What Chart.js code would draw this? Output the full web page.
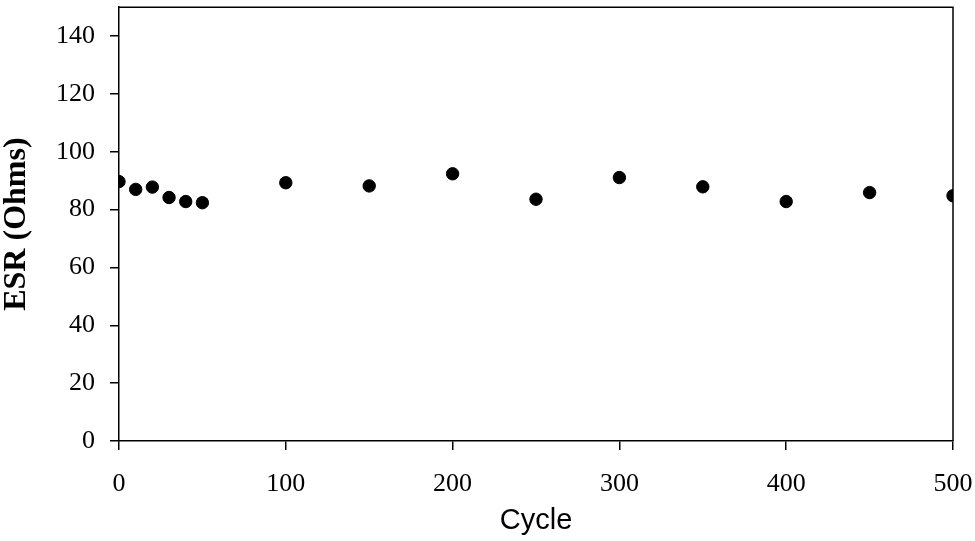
<!DOCTYPE html>
<html lang="en">

<head>
    <meta charset="UTF-8" />
    <title>ESR vs Cycle</title>
    <script src="https://cdn.jsdelivr.net/npm/chart.js"></script>
    <style>
        html, body { margin: 0; padding: 0; background: #fff; }
        #wrap { width: 975px; height: 541px; }
    </style>
</head>

<body>
    <div id="wrap"><canvas id="esrChart"></canvas></div>

    <script>
        // values
        const cycles = [0, 10, 20, 30, 40, 50, 100, 150, 200, 250, 300, 350, 400, 450, 500];
        const esr = [89.7, 87.0, 87.8, 84.2, 82.8, 82.4, 89.3, 88.2, 92.4, 83.6, 91.1, 87.9, 82.8, 85.9, 84.8];
        const xTicks = [0, 100, 200, 300, 400, 500];
        const yTicks = [0, 20, 40, 60, 80, 100, 120, 140];

        // top and right sides of the plot box
        const frame = {
            id: 'frame',
            afterDraw(chart) {
                const { ctx, chartArea: a } = chart;
                ctx.save();
                ctx.strokeStyle = '#000';
                ctx.lineWidth = 1.5;
                ctx.beginPath();
                ctx.moveTo(a.left, a.top);
                ctx.lineTo(a.right, a.top);
                ctx.lineTo(a.right, a.bottom);
                ctx.stroke();
                ctx.restore();
            }
        };

        const serif = "'Liberation Serif', 'Times New Roman', serif";

        new Chart(document.getElementById('esrChart'), {
            type: 'scatter',
            data: {
                datasets: [{
                    label: 'ESR',
                    data: cycles.map((c, i) => ({ x: c, y: esr[i] })),
                    backgroundColor: '#000',
                    borderColor: '#000',
                    pointRadius: 6.2,
                    pointHoverRadius: 6.2
                }]
            },
            options: {
                responsive: true,
                maintainAspectRatio: false,
                animation: false,
                layout: { padding: { top: 3, right: 22, left: 0, bottom: 0 } },
                plugins: {
                    legend: { display: false },
                    tooltip: { enabled: false }
                },
                scales: {
                    x: {
                        type: 'linear',
                        min: 0,
                        max: 500,
                        afterBuildTicks: s => { s.ticks = xTicks.map(v => ({ value: v })); },
                        afterFit: s => {
                            s.height = 100;
                            s.paddingLeft = 0;
                            s.paddingRight = 0;
                        },
                        grid: { drawOnChartArea: false, color: '#000', tickLength: 9, lineWidth: 1.5 },
                        border: { color: '#000', width: 1.5 },
                        ticks: {
                            color: '#000',
                            padding: 19,
                            maxRotation: 0,
                            font: { family: serif, size: 26 }
                        },
                        title: {
                            display: true,
                            text: 'Cycle',
                            color: '#000',
                            padding: { top: 0, bottom: 3 },
                            font: { family: "'Liberation Sans', Arial, sans-serif", size: 29 }
                        }
                    },
                    y: {
                        min: 0,
                        max: 150,
                        afterBuildTicks: s => { s.ticks = yTicks.map(v => ({ value: v })); },
                        afterFit: s => {
                            s.width = 119;
                            s.paddingTop = 0;
                            s.paddingBottom = 0;
                        },
                        grid: { drawOnChartArea: false, color: '#000', tickLength: 9, lineWidth: 1.5 },
                        border: { color: '#000', width: 1.5 },
                        ticks: {
                            color: '#000',
                            padding: 15,
                            font: { family: serif, size: 26 }
                        },
                        title: {
                            display: true,
                            text: 'ESR (Ohms)',
                            color: '#000',
                            padding: { top: 1, bottom: 0 },
                            font: { family: serif, size: 32, weight: 'bold', lineHeight: 1.0 }
                        }
                    }
                }
            },
            plugins: [frame]
        });
    </script>
</body>

</html>
